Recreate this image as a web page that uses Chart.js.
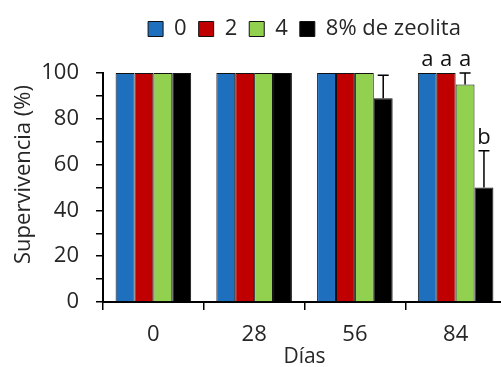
<!DOCTYPE html>
<html>
<head>
<meta charset="utf-8">
<script src="https://cdn.jsdelivr.net/npm/chart.js@4"></script>
<style>
  html, body { margin: 0; padding: 0; background: #fff; overflow: hidden; }
  #wrap { width: 506px; height: 367px; }
</style>
</head>
<body>
<div id="wrap"><canvas id="chartSupervivencia" width="506" height="367"></canvas></div>
<script>
  const dias = ['0', '28', '56', '84'];
  const seriesNames = ['0', '2', '4', '8% de zeolita'];
  const zeo0 = [100, 100, 100, 100];
  const zeo2 = [100, 100, 100, 100];
  const zeo4 = [100, 100, 100, 95];
  const zeo8 = [100, 100, 89, 50];
  const err0 = [0, 0, 0, 0];
  const err2 = [0, 0, 0, 0];
  const err4 = [0, 0, 0, 5];
  const err8 = [0, 0, 10, 16];
  const let0 = ['', '', '', 'a'];
  const let2 = ['', '', '', 'a'];
  const let4 = ['', '', '', 'a'];
  const let8 = ['', '', '', 'b'];
  const yTicks = [0, 20, 40, 60, 80, 100];

  const colors = ['#1f6fbf', '#c00000', '#92d050', '#000000'];
  const fontFam = '"Open Sans", "Noto Sans", sans-serif';
  const textColor = '#262626';

  const values = [zeo0, zeo2, zeo4, zeo8];
  const errors = [err0, err2, err4, err8];
  const letters = [let0, let2, let4, let8];

  // legend gets extra height so the plot starts lower
  const legendSpace = {
    id: 'legendSpace',
    beforeInit(chart) {
      const origFit = chart.legend.fit;
      chart.legend.fit = function () {
        origFit.bind(chart.legend)();
        this.height = 67;
      };
    }
  };

  // error bars + letters + y title
  const extras = {
    id: 'extras',
    afterDatasetsDraw(chart) {
      const ctx = chart.ctx;
      const y = chart.scales.y;
      ctx.save();
      chart.data.datasets.forEach((ds, di) => {
        const meta = chart.getDatasetMeta(di);
        meta.data.forEach((bar, i) => {
          const e = errors[di][i];
          let topPx = bar.y;
          if (e > 0) {
            const ePx = y.getPixelForValue(values[di][i] + e);
            ctx.strokeStyle = '#000';
            ctx.lineWidth = 1.5;
            ctx.beginPath();
            ctx.moveTo(bar.x, bar.y);
            ctx.lineTo(bar.x, ePx);
            ctx.moveTo(bar.x - 5.5, ePx);
            ctx.lineTo(bar.x + 5.5, ePx);
            ctx.stroke();
            topPx = ePx;
          }
          const l = letters[di][i];
          if (l) {
            ctx.fillStyle = '#111';
            ctx.font = '22px ' + fontFam;
            ctx.textAlign = 'center';
            ctx.textBaseline = 'alphabetic';
            ctx.fillText(l, bar.x, topPx - 7);
          }
        });
      });
      // y axis title
      const area = chart.chartArea;
      ctx.translate(24, (area.top + area.bottom) / 2 - 13);
      ctx.rotate(-Math.PI / 2);
      ctx.fillStyle = textColor;
      ctx.font = '22px ' + fontFam;
      ctx.textAlign = 'center';
      ctx.textBaseline = 'middle';
      ctx.fillText('Supervivencia (%)', 0, 0);
      ctx.restore();
    }
  };

  new Chart(document.getElementById('chartSupervivencia'), {
    type: 'bar',
    data: {
      labels: dias,
      datasets: seriesNames.map((name, i) => ({
        label: name,
        data: values[i],
        backgroundColor: colors[i],
        borderColor: '#111',
        borderWidth: 1,
        categoryPercentage: 0.75,
        barPercentage: 1.0
      }))
    },
    options: {
      responsive: false,
      animation: false,
      layout: { padding: { left: 0, right: 0, top: 6, bottom: 0 } },
      plugins: {
        legend: {
          position: 'top',
          fullSize: false,
          labels: {
            boxWidth: 15,
            boxHeight: 15,
            padding: 12,
            color: textColor,
            font: { family: fontFam, size: 22 }
          }
        },
        tooltip: { enabled: false }
      },
      scales: {
        x: {
          grid: { display: true, drawOnChartArea: false, drawTicks: true, tickLength: 8, color: '#000', lineWidth: 1.5, offset: true },
          border: { color: '#000', width: 2 },
          ticks: { color: textColor, font: { family: fontFam, size: 22 }, padding: 12 },
          title: { display: true, text: 'Días', color: textColor, font: { family: fontFam, size: 21 }, padding: { top: 0, bottom: -3 } },
          afterFit(scale) { scale.height = 65; }
        },
        y: {
          min: 0,
          max: 100,
          grid: { display: true, drawOnChartArea: false, drawTicks: true, tickLength: 7, color: '#000', lineWidth: 1.5 },
          border: { color: '#000', width: 2 },
          ticks: {
            stepSize: 10,
            autoSkip: false,
            padding: 17,
            color: textColor,
            font: { family: fontFam, size: 22 },
            callback: v => yTicks.includes(v) ? v : ''
          },
          afterFit(scale) { scale.width = 103; }
        }
      }
    },
    plugins: [legendSpace, extras]
  });
</script>
</body>
</html>
